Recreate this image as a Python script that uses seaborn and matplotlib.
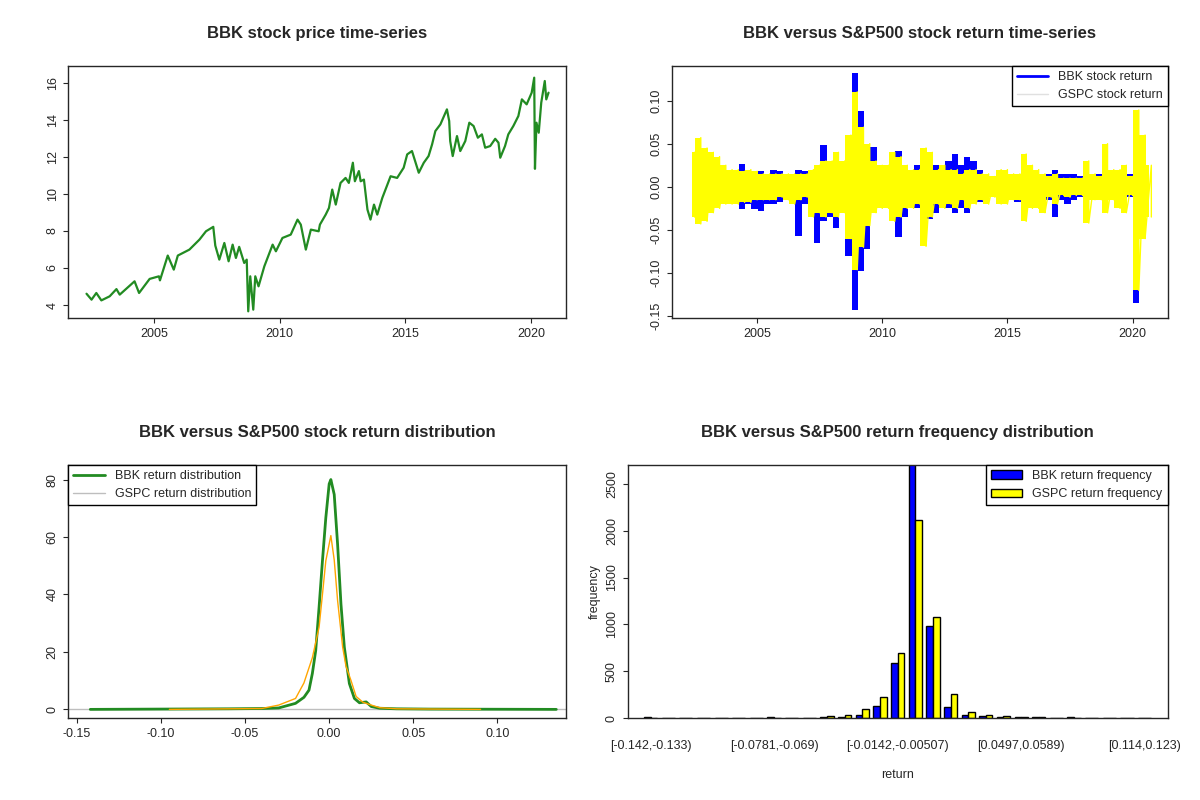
"""BBK vs S&P500: price, returns, return density and return frequency (2x2)."""

import matplotlib
matplotlib.use("Agg")
import matplotlib.pyplot as plt
import numpy as np
import pandas as pd
import seaborn as sns

# ---- price series (year, price) ----
price_year = [2002.32, 2002.52, 2002.71, 2002.91, 2003.24, 2003.51, 2003.64, 2004.23, 2004.41,
              2004.83, 2005.20, 2005.24, 2005.55, 2005.79, 2005.95, 2006.41, 2006.81, 2007.07,
              2007.36, 2007.44, 2007.60, 2007.80, 2007.97, 2008.13, 2008.26, 2008.39, 2008.59,
              2008.69, 2008.75, 2008.83, 2008.95, 2009.03, 2009.16, 2009.39, 2009.72, 2009.85,
              2010.11, 2010.44, 2010.71, 2010.84, 2011.04, 2011.24, 2011.55, 2011.60, 2011.83,
              2011.96, 2012.09, 2012.23, 2012.42, 2012.62, 2012.75, 2012.91, 2012.99, 2013.15,
              2013.22, 2013.35, 2013.49, 2013.61, 2013.75, 2013.88, 2014.08, 2014.41, 2014.67,
              2014.93, 2015.07, 2015.26, 2015.53, 2015.73, 2015.92, 2016.06, 2016.19, 2016.39,
              2016.65, 2016.74, 2016.78, 2016.88, 2017.05, 2017.18, 2017.38, 2017.54, 2017.71,
              2017.88, 2018.04, 2018.17, 2018.37, 2018.57, 2018.70, 2018.77, 2018.96, 2019.09,
              2019.29, 2019.49, 2019.63, 2019.82, 2020.02, 2020.12, 2020.15, 2020.21, 2020.30,
              2020.40, 2020.54, 2020.60, 2020.69]
price = [4.61, 4.29, 4.65, 4.25, 4.47, 4.86, 4.56, 5.28, 4.65,
         5.41, 5.55, 5.33, 6.67, 5.91, 6.67, 6.99, 7.53, 7.98,
         8.22, 7.21, 6.45, 7.35, 6.36, 7.26, 6.54, 7.14, 6.27,
         6.45, 3.66, 5.55, 3.75, 5.55, 5.01, 6.09, 7.26, 6.90,
         7.62, 7.80, 8.61, 8.34, 6.99, 8.07, 7.98, 8.34, 8.88,
         9.24, 10.23, 9.42, 10.59, 10.86, 10.59, 11.68, 10.68, 11.23,
         10.68, 10.77, 9.15, 8.61, 9.42, 8.88, 9.78, 10.95, 10.86,
         11.41, 12.13, 12.31, 11.14, 11.68, 12.04, 12.67, 13.39, 13.75,
         14.56, 13.93, 12.85, 12.04, 13.12, 12.31, 12.85, 13.84, 13.66,
         13.03, 13.21, 12.49, 12.58, 12.97, 12.76, 11.95, 12.58, 13.21,
         13.66, 14.20, 15.10, 14.83, 15.46, 16.27, 11.35, 13.84, 13.30,
         14.92, 16.09, 15.10, 15.46]

# ---- quarterly return envelopes (high / low) ----
ret_year = np.arange(2002.4, 2020.7, 0.25)
bbk_hi = [.030, .030, .025, .020, .020, .018, .015, .015, .026, .015, .015, .018, .015, .020,
          .018, .015, .015, .020, .018, .020, .020, .049, .030, .038, .030, .060, .132, .088,
          .040, .046, .025, .020, .030, .041, .025, .020, .025, .043, .035, .025, .025, .030,
          .038, .025, .035, .030, .020, .015, .013, .013, .015, .015, .012, .015, .015, .015,
          .015, .015, .020, .015, .015, .015, .012, .015, .012, .015, .020, .015, .020, .025,
          .015, .071, .030, .020]
bbk_lo = [-.034, -.030, -.025, -.025, -.020, -.020, -.015, -.015, -.026, -.020, -.026, -.028,
          -.020, -.020, -.018, -.015, -.015, -.057, -.020, -.025, -.065, -.040, -.035, -.048,
          -.030, -.080, -.143, -.098, -.072, -.030, -.025, -.025, -.035, -.058, -.035, -.020,
          -.025, -.050, -.037, -.030, -.025, -.025, -.030, -.025, -.030, -.020, -.018, -.015,
          -.012, -.013, -.015, -.015, -.018, -.020, -.015, -.020, -.015, -.015, -.035, -.015,
          -.020, -.015, -.012, -.015, -.012, -.013, -.015, -.015, -.020, -.020, -.012, -.135,
          -.030, -.020]
gspc_hi = [.040, .057, .045, .040, .035, .025, .020, .020, .018, .020, .018, .015, .015, .015,
           .015, .015, .015, .015, .015, .020, .025, .030, .030, .040, .030, .060, .110, .069,
           .050, .030, .025, .025, .040, .035, .025, .020, .020, .045, .040, .020, .025, .020,
           .020, .015, .020, .020, .015, .015, .012, .020, .020, .015, .015, .038, .025, .020,
           .015, .012, .015, .010, .010, .010, .010, .030, .015, .012, .050, .020, .020, .025,
           .012, .089, .060, .025]
gspc_lo = [-.035, -.043, -.040, -.030, -.025, -.020, -.020, -.020, -.018, -.018, -.015, -.015,
           -.015, -.015, -.012, -.015, -.020, -.015, -.012, -.035, -.030, -.035, -.030, -.035,
           -.030, -.060, -.096, -.070, -.045, -.030, -.025, -.025, -.040, -.035, -.025, -.025,
           -.020, -.069, -.035, -.020, -.025, -.020, -.025, -.015, -.025, -.020, -.015, -.020,
           -.012, -.020, -.020, -.015, -.015, -.040, -.025, -.025, -.030, -.012, -.020, -.010,
           -.012, -.010, -.010, -.042, -.015, -.015, -.030, -.015, -.025, -.030, -.010, -.120,
           -.060, -.035]

# ---- return densities ----
bbk_dx = [-0.142, -0.06, -0.04, -0.03, -0.02, -0.015, -0.012, -0.010, -0.008, -0.006, -0.004,
          -0.002, 0.0, 0.001, 0.003, 0.005, 0.007, 0.009, 0.012, 0.015, 0.018, 0.022, 0.025,
          0.030, 0.040, 0.060, 0.135]
bbk_dy = [0.0, 0.2, 0.3, 0.5, 2.1, 4.2, 6.7, 12.5, 20.5, 35.6, 51.7,
          66.7, 78.5, 80.0, 74.8, 57.5, 36.7, 21.7, 9.0, 3.8, 2.3, 2.6, 1.0,
          0.4, 0.2, 0.1, 0.0]
gspc_dx = [-0.095, -0.04, -0.03, -0.02, -0.015, -0.010, -0.006, -0.004, -0.002, 0.001, 0.003,
           0.005, 0.008, 0.010, 0.013, 0.016, 0.020, 0.025, 0.030, 0.040, 0.090]
gspc_dy = [0.0, 0.3, 1.5, 3.8, 9.2, 18.0, 28.6, 40.0, 51.7, 60.5, 52.0,
           37.9, 21.7, 15.0, 10.0, 4.5, 2.5, 1.5, 0.6, 0.2, 0.0]

# ---- return frequency (29 bins) ----
bbk_freq = [8, 2, 2, 2, 2, 3, 3, 8, 2, 2, 8, 10, 35, 130, 590, 2800, 980, 120, 35, 20, 10,
            8, 8, 2, 8, 2, 2, 2, 2]
gspc_freq = [2, 2, 2, 2, 2, 2, 3, 3, 2, 2, 20, 30, 95, 225, 690, 2120, 1075, 255, 65, 35, 20,
             8, 8, 2, 2, 2, 2, 2, 2]
bin_labels_shown = ["[-0.142,-0.133)", "[-0.0781,-0.069)", "[-0.0142,-0.00507)",
                    "[0.0497,0.0589)", "[0.114,0.123)"]

sns.set_style("ticks")
plt.rcParams["font.family"] = ["Liberation Sans", "DejaVu Sans"]
plt.rcParams["axes.linewidth"] = 1.0

fig = plt.figure(figsize=(12, 8), dpi=100)
ax1 = fig.add_axes([0.057, 0.6025, 0.415, 0.315])
ax2 = fig.add_axes([0.560, 0.6025, 0.413, 0.315])
ax3 = fig.add_axes([0.057, 0.1025, 0.415, 0.316])
ax4 = fig.add_axes([0.523, 0.1025, 0.450, 0.316])


def style(ax, title):
    ax.set_title(title, fontsize=12, fontweight="bold", pad=20)
    ax.tick_params(labelsize=9)
    for lab in ax.get_yticklabels():
        lab.set_rotation(90)
        lab.set_va("center")


def legend_box(ax, loc):
    leg = ax.legend(loc=loc, fontsize=9, fancybox=False, framealpha=1, borderaxespad=0,
                    handlelength=2.5)
    leg.get_frame().set_edgecolor("black")
    return leg


# price
sns.lineplot(x=price_year, y=price, ax=ax1, color="#228B22", lw=1.6, sort=False, estimator=None)
ax1.set_xlim(2001.6, 2021.4)
ax1.set_ylim(3.3, 16.9)
ax1.set_xticks([2005, 2010, 2015, 2020])
ax1.set_yticks([4, 6, 8, 10, 12, 14, 16])
style(ax1, "BBK stock price time-series")

# returns: quarterly envelope bands, yellow drawn over blue
ax2.fill_between(ret_year, bbk_lo, bbk_hi, step="mid", color="blue", lw=0)
ax2.fill_between(ret_year, gspc_lo, gspc_hi, step="mid", color="yellow", lw=0)
zz_x = np.repeat(ret_year, 2)
gspc_zz = np.ravel(np.column_stack([gspc_hi, gspc_lo]))
ax2.plot(zz_x + 0.1, gspc_zz, color="yellow", lw=1)
ax2.plot([], [], color="blue", lw=2, label="BBK stock return")
ax2.plot([], [], color="#e0e0e0", lw=1, label="GSPC stock return")
ax2.set_xlim(2001.6, 2021.4)
ax2.set_ylim(-0.152, 0.14)
ax2.set_xticks([2005, 2010, 2015, 2020])
ax2.set_yticks([-0.15, -0.10, -0.05, 0.0, 0.05, 0.10])
ax2.set_yticklabels(["-0.15", "-0.10", "-0.05", "0.00", "0.05", "0.10"])
style(ax2, "BBK versus S&P500 stock return time-series")
legend_box(ax2, "upper right")

# densities
ax3.axhline(0, color="#bebebe", lw=1)
sns.lineplot(x=bbk_dx, y=bbk_dy, ax=ax3, color="#228B22", lw=2, label="BBK return distribution")
sns.lineplot(x=gspc_dx, y=gspc_dy, ax=ax3, color="orange", lw=1, label="GSPC return distribution")
ax3.set_xlim(-0.155, 0.141)
ax3.set_ylim(-3, 85)
ax3.set_xticks([-0.15, -0.10, -0.05, 0.0, 0.05, 0.10])
ax3.set_xticklabels(["-0.15", "-0.10", "-0.05", "0.00", "0.05", "0.10"])
ax3.set_yticks([0, 20, 40, 60, 80])
style(ax3, "BBK versus S&P500 stock return distribution")
legend_box(ax3, "upper left").get_lines()[1].set_color("#bebebe")

# frequency
freq = pd.DataFrame({
    "bin": list(range(29)) * 2,
    "count": bbk_freq + gspc_freq,
    "series": ["BBK return frequency"] * 29 + ["GSPC return frequency"] * 29,
})
sns.barplot(data=freq, x="bin", y="count", hue="series", palette=["blue", "yellow"],
            saturation=1, edgecolor="black", linewidth=1, width=0.75, ax=ax4, legend=True)
ax4.set_ylim(0, 2700)
ax4.set_xlim(-1.3, 29.3)
ax4.set_xticks([0, 7, 14, 21, 28])
ax4.set_xticklabels(bin_labels_shown)
ax4.set_xlabel("return", fontsize=9, labelpad=12)
ax4.set_ylabel("frequency", fontsize=9)
ax4.set_yticks([0, 500, 1000, 1500, 2000, 2500])
style(ax4, "BBK versus S&P500 return frequency distribution")
ax4.tick_params(axis="x", length=0, pad=16)
leg4 = legend_box(ax4, "upper right")
leg4.set_title(None)
for h in leg4.legend_handles:
    h.set_edgecolor("black")

fig.savefig("out.png", dpi=100)
